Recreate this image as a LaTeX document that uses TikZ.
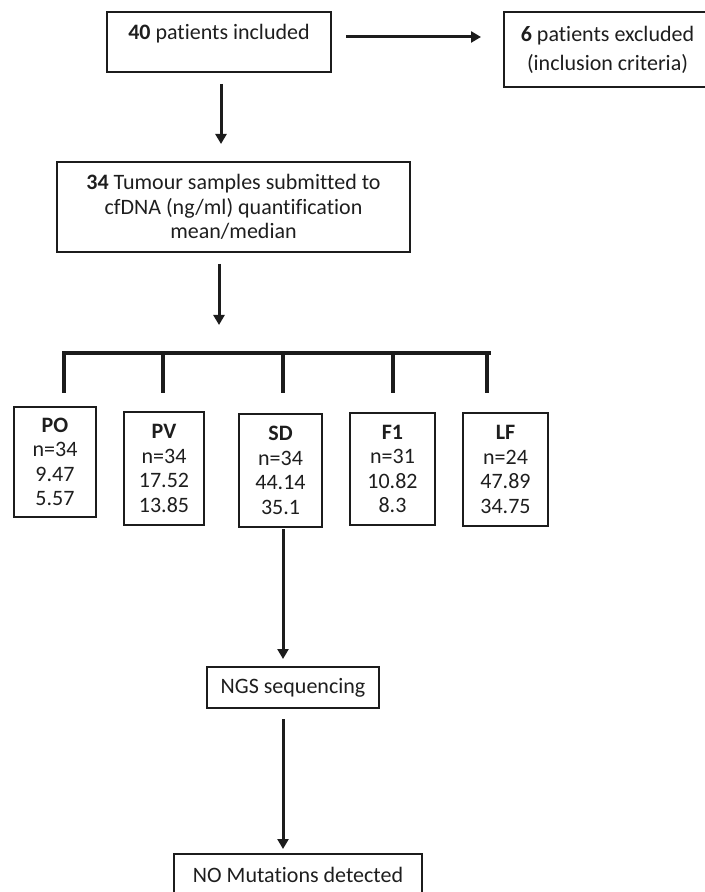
\documentclass[tikz,border=0pt]{standalone}
\usepackage{fontspec}
\setmainfont{Carlito}[Ligatures=NoCommon]
\usetikzlibrary{arrows.meta}
\definecolor{linec}{HTML}{1C1C1C}
\definecolor{textc}{HTML}{1E1E1E}

\begin{document}
\begin{tikzpicture}[x=0.5pt, y=-0.5pt,
  font=\fontsize{11}{12.25}\selectfont, text=textc,
  box/.style={draw=linec, line width=1pt, rectangle, align=center, inner sep=2pt},
  statbox/.style={box, minimum height=56pt},
  arr/.style={draw=linec, line width=1.5pt, -{Triangle[length=5pt,width=5.5pt]}},
  bar/.style={draw=linec, line width=2pt}]
  \useasboundingbox (0,0) rectangle (705,892);
  \node[box, minimum width=112pt, minimum height=30pt, text height=7pt, text depth=9pt] (incl) at (219,42) {\textbf{40} patients included};
  \node[box, minimum width=110pt, minimum height=37.5pt] (excl) at (614,49.5) {\textbf{6} patients excluded\hspace*{6.5pt}\\[2.25pt](inclusion criteria)\hspace*{6.5pt}};
  \node[box, minimum width=176.5pt, minimum height=45pt] (quant) at (233.5,207) {\textbf{34} Tumour samples submitted to\\cfDNA (ng/ml) quantification\\mean/median};
  \node[statbox, minimum width=41pt, minimum height=55pt] (po) at (55,462) {\textbf{PO}\\n=34\\9.47\\5.57};
  \node[statbox, minimum width=40pt, minimum height=56.5pt] (pv) at (164,468.5) {\textbf{PV}\\n=34\\17.52\\13.85};
  \node[statbox, minimum width=41.5pt, minimum height=56.5pt] (sd) at (280.5,470.5) {\textbf{SD}\\n=34\\44.14\\35.1};
  \node[statbox, minimum width=42.5pt] (fone) at (392.5,469) {\textbf{F1}\\n=31\\10.82\\8.3};
  \node[statbox, minimum width=42.5pt, minimum height=56.5pt] (lf) at (505.5,469.5) {\textbf{LF}\\n=24\\47.89\\34.75};
  \node[box, minimum width=86pt, minimum height=20.5pt] (ngs) at (293,687.5) {NGS sequencing};
  \node[box, minimum width=124pt, minimum height=20.5pt] (nomut) at (298,874.5) {NO Mutations detected};
  \coordinate (split) at (219,353);
  \draw[arr, shorten <=5.5pt, shorten >=8.5pt] ([xshift=1pt]incl.south) -- ([xshift=1pt]incl.south |- quant.north);
  \draw[arr, shorten <=7pt, shorten >=11pt] ([yshift=2.5pt]incl.east) -- ([yshift=2.5pt]incl.east -| excl.west);
  \draw[arr, shorten <=5.5pt, shorten >=14pt] (quant.south -| split) -- (split);
  \draw[bar] (62,353) -- (491,353);
  \foreach \x in {64,163,283,393,487}
    \draw[bar] (\x,353) -- (\x,393);
  \draw[arr, shorten <=0.5pt, shorten >=3.5pt] ([xshift=1.25pt]sd.south) -- ([xshift=1.25pt]sd.south |- ngs.north);
  \draw[arr, shorten <=5pt, shorten >=2pt] ([xshift=-5pt]ngs.south) -- ([xshift=-5pt]ngs.south |- nomut.north);
\end{tikzpicture}
\end{document}
